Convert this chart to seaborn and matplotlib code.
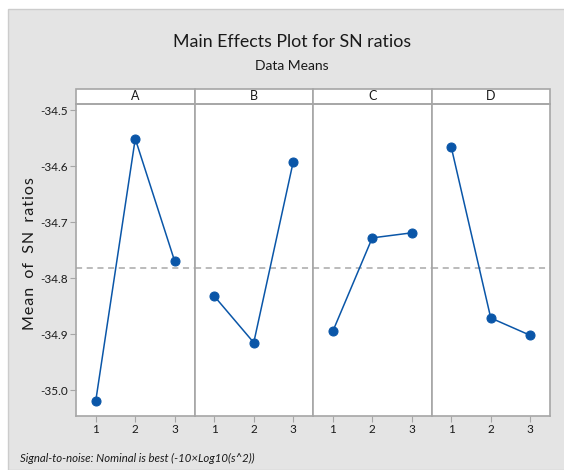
import pandas as pd
import matplotlib.pyplot as plt
import seaborn as sns
from matplotlib.patches import Rectangle

factors = ['A', 'B', 'C', 'D']
levels = [1, 2, 3]
sn_A = [-35.019, -34.551, -34.770]
sn_B = [-34.832, -34.915, -34.592]
sn_C = [-34.895, -34.728, -34.719]
sn_D = [-34.566, -34.871, -34.902]
grand_mean = -34.781
y_ticks = [-35.0, -34.9, -34.8, -34.7, -34.6, -34.5]

rows = []
for f, vals in zip(factors, [sn_A, sn_B, sn_C, sn_D]):
    for lv, v in zip(levels, vals):
        rows.append({'factor': f, 'level': lv, 'sn': v})
df = pd.DataFrame(rows)

sns.set_style('white')
plt.rcParams['font.family'] = ['Lato', 'DejaVu Sans']

bg = '#e4e4e4'
edge = '#a6a6a6'
blue = '#0a56a8'
txt = '#1a1a1a'

fig, axes = plt.subplots(1, 4, sharey=True, figsize=(5.64, 4.70), dpi=100)
fig.patch.set_facecolor('white')
fig.patches.append(Rectangle((8 / 564, 0), 1, 1 - 9 / 470, transform=fig.transFigure,
                             facecolor=bg, edgecolor='#cccccc', lw=1, zorder=-10))
fig.subplots_adjust(left=76 / 564, right=550 / 564, top=1 - 104 / 470,
                    bottom=1 - 416 / 470, wspace=0)

for ax, f in zip(axes, factors):
    sub = df[df['factor'] == f]
    sns.lineplot(data=sub, x='level', y='sn', ax=ax, color=blue, lw=1.1,
                 marker='o', markersize=6.5, markeredgecolor=blue)
    ax.axhline(grand_mean, color='#a8a8a8', ls=(0, (4, 3)), lw=1.1, zorder=0)
    ax.set_xlim(0.5, 3.5)
    ax.set_ylim(-35.046, -34.489)
    ax.set_xticks(levels)
    ax.set_xlabel('')
    ax.set_ylabel('')
    ax.set_facecolor('white')
    for s in ax.spines.values():
        s.set_color(edge)
        s.set_linewidth(1.2)
    ax.tick_params(axis='x', length=4, color=edge, labelsize=8.5, labelcolor=txt,
                   pad=2, direction='out', bottom=True)
    ax.tick_params(axis='y', length=4, color=edge, labelsize=8.5, labelcolor=txt,
                   pad=2, direction='out', left=True)
    hh = 15 / 312
    ax.add_patch(Rectangle((0, 1), 1, hh, transform=ax.transAxes, clip_on=False,
                           facecolor='white', edgecolor=edge, lw=1.2))
    ax.text(0.5, 1 + hh / 2, f, transform=ax.transAxes, ha='center', va='center',
            fontsize=9, color=txt)

for ax in axes[1:]:
    ax.tick_params(axis='y', left=False, labelleft=False)

axes[0].set_yticks(y_ticks)
axes[0].set_yticklabels([f'{t:.1f}' for t in y_ticks])

ylab = '\u200a'.join('Mean of SN ratios').replace(' \u200a', '  ')
fig.text(30 / 564, 1 - 254 / 470, ylab, rotation=90,
         ha='center', va='center', fontsize=11.5, color=txt)
fig.text(292 / 564, 1 - 42 / 470, 'Main Effects Plot for SN ratios', ha='center',
         va='center', fontsize=12.8, color=txt)
fig.text(292 / 564, 1 - 66 / 470, 'Data Means', ha='center', va='center',
         fontsize=10, color=txt)
fig.text(20 / 564, 1 - 458 / 470, 'Signal-to-noise: Nominal is best (-10×Log10(s^2))',
         ha='left', va='center', fontsize=8.2, style='italic', color=txt)

fig.savefig('out.png', dpi=100, facecolor=fig.get_facecolor())
